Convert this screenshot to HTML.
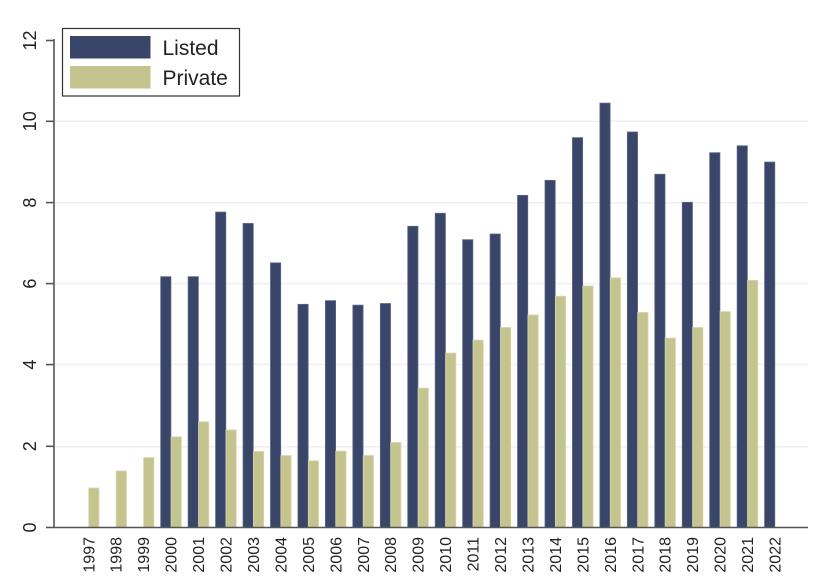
<!DOCTYPE html>
<html><head><meta charset="utf-8"><style>
html,body{margin:0;padding:0;background:#fff;}
svg{display:block;}
text{font-family:"Liberation Sans",Arial,sans-serif;fill:#222;}
</style></head><body>
<svg width="818" height="581" viewBox="0 0 818 581" xmlns="http://www.w3.org/2000/svg">
<rect width="818" height="581" fill="#fff"/>
<g stroke="#eef2f2" stroke-width="1.5">
<line x1="55" x2="808" y1="446.7" y2="446.7"/>
<line x1="55" x2="808" y1="364.4" y2="364.4"/>
<line x1="55" x2="808" y1="283.6" y2="283.6"/>
<line x1="55" x2="808" y1="202.8" y2="202.8"/>
<line x1="55" x2="808" y1="121.3" y2="121.3"/>
</g>
<g id="bars" stroke-width="0.8"></g>
<g stroke="#555" stroke-width="1.6">
<line x1="54" x2="54" y1="39" y2="528"/>
<line x1="54" x2="808" y1="527.5" y2="527.5"/>
<line x1="46" x2="54" y1="527.5" y2="527.5"/>
<line x1="46" x2="54" y1="446.3" y2="446.3"/>
<line x1="46" x2="54" y1="364.6" y2="364.6"/>
<line x1="46" x2="54" y1="283.6" y2="283.6"/>
<line x1="46" x2="54" y1="202.6" y2="202.6"/>
<line x1="46" x2="54" y1="121.3" y2="121.3"/>
<line x1="46" x2="54" y1="40.5" y2="40.5"/>
</g>
<g font-size="18" text-anchor="middle">
<text transform="translate(36,527.5) rotate(-90)">0</text>
<text transform="translate(36,446.3) rotate(-90)">2</text>
<text transform="translate(36,364.6) rotate(-90)">4</text>
<text transform="translate(36,283.6) rotate(-90)">6</text>
<text transform="translate(36,202.6) rotate(-90)">8</text>
<text transform="translate(36,121.3) rotate(-90)">10</text>
<text transform="translate(36,40.5) rotate(-90)">12</text>
</g>
<g id="xl" font-size="16" text-anchor="end"></g>
<rect x="62.5" y="28.5" width="177" height="67.5" fill="#fff" stroke="#333" stroke-width="1.2"/>
<rect x="70" y="36" width="80.5" height="22.5" fill="#394669"/>
<rect x="70" y="66" width="80.5" height="22.5" fill="#c5c48f"/>
<text x="162.5" y="55" font-size="21">Listed</text>
<text x="162.5" y="85" font-size="21">Private</text>
<script>
(function(){
var L={2000:6.17,2001:6.17,2002:7.76,2003:7.48,2004:6.51,2005:5.49,2006:5.58,2007:5.47,2008:5.51,2009:7.41,2010:7.73,2011:7.08,2012:7.22,2013:8.17,2014:8.54,2015:9.59,2016:10.44,2017:9.73,2018:8.69,2019:8.0,2020:9.22,2021:9.39,2022:8.99};
var P={1997:0.97,1998:1.39,1999:1.72,2000:2.23,2001:2.60,2002:2.40,2003:1.87,2004:1.77,2005:1.64,2006:1.88,2007:1.77,2008:2.09,2009:3.43,2010:4.29,2011:4.61,2012:4.92,2013:5.23,2014:5.69,2015:5.94,2016:6.14,2017:5.29,2018:4.66,2019:4.92,2020:5.31,2021:6.08};
var ns="http://www.w3.org/2000/svg";
var g=document.getElementById("bars"),xl=document.getElementById("xl");
function Y(v){return 527.5-v*40.65;}
function bar(x,v,fill,stroke){var r=document.createElementNS(ns,"rect");r.setAttribute("x",x);r.setAttribute("y",Y(v));r.setAttribute("width",10.2);r.setAttribute("height",527.5-Y(v));r.setAttribute("fill",fill);r.setAttribute("stroke",stroke);g.appendChild(r);}
for(var yr=1997;yr<=2022;yr++){
var c=171+(yr-2000)*27.45;
if(L[yr]!==undefined)bar(c-10.3,L[yr],"#394669","#5a6787");
if(P[yr]!==undefined)bar(c+0.1,P[yr],"#c5c48f","#d6d5ab");
var t=document.createElementNS(ns,"text");
t.setAttribute("transform","translate("+(c+5.6)+",537) rotate(-90)");
t.textContent=yr;xl.appendChild(t);
}
})();
</script>
</svg>
</body></html>
